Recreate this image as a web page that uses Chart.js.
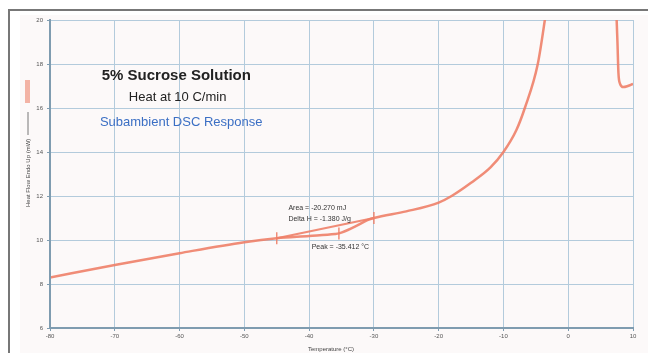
<!DOCTYPE html>
<html>
<head>
<meta charset="utf-8">
<script src="https://cdn.jsdelivr.net/npm/chart.js@4"></script>
<style>
  html, body { margin: 0; padding: 0; background: #fff; }
  #wrap { position: relative; width: 648px; height: 353px; }
</style>
</head>
<body>
<div id="wrap"><canvas id="dsc" width="648" height="353"></canvas></div>
<script>
// heating curve (null breaks the line where it leaves the scale)
var temps = [-80, -70, -60, -50, -45, -40, -36, -35.4, -33, -31, -30, -25, -20, -18, -15, -12, -10, -8, -6.7, -4.7, -3.3, null, 7.4, 7.6, 7.75, 8.0, 8.5, 9.2, 10];
var flow  = [8.3, 8.86, 9.4, 9.9, 10.08, 10.18, 10.27, 10.3, 10.6, 10.9, 11.0, 11.3, 11.7, 12.0, 12.6, 13.3, 14.0, 15.0, 16.0, 18.0, 20.6, null, 20.6, 19.0, 17.6, 17.1, 16.95, 17.0, 17.1];
// integration baseline
var baseTemps = [-45, -30];
var baseFlow = [10.08, 11.0];
// analysis markers
var markTemps = [-45, -35.4, -30];
var markFlow = [10.08, 10.3, 11.0];
var xTicks = [-80, -70, -60, -50, -40, -30, -20, -10, 0, 10];
var yTicks = [6, 8, 10, 12, 14, 16, 18, 20];

function pts(xs, ys) {
  return xs.map(function (x, i) { return x === null ? { x: null, y: null } : { x: x, y: ys[i] }; });
}

var lineColor = 'rgba(238, 128, 104, 0.9)';
var gridColor = '#b3cbdc';
var axisColor = '#7f9cb0';
var smallFont = '6px "Liberation Sans", Arial, sans-serif';

var decor = {
  id: 'decor',
  beforeDraw: function (chart) {
    var c = chart.ctx;
    c.save();
    c.fillStyle = '#ffffff';
    c.fillRect(0, 0, chart.width, chart.height);
    c.fillStyle = '#fcf9f9';
    c.fillRect(20, 15, chart.width - 20, chart.height - 15);
    c.strokeStyle = '#777';
    c.lineWidth = 2;
    c.beginPath();
    c.moveTo(9, chart.height);
    c.lineTo(9, 10);
    c.lineTo(chart.width, 10);
    c.stroke();
    c.restore();
  },
  afterDraw: function (chart) {
    var c = chart.ctx, xs = chart.scales.x, ys = chart.scales.y, a = chart.chartArea;
    c.save();
    c.textBaseline = 'middle';
    c.textAlign = 'center';
    c.fillStyle = '#222';
    c.font = 'bold 15px "Liberation Sans", Arial, sans-serif';
    c.fillText('5% Sucrose Solution', xs.getPixelForValue(-60.5), ys.getPixelForValue(17.45));
    c.font = '13px "Liberation Sans", Arial, sans-serif';
    c.fillText('Heat at 10 C/min', xs.getPixelForValue(-60.3), ys.getPixelForValue(16.5));
    c.textAlign = 'left';
    c.fillStyle = '#3b6fc4';
    c.fillText('Subambient DSC Response', xs.getPixelForValue(-72.3), ys.getPixelForValue(15.36));
    c.fillStyle = '#333';
    c.font = '7px "Liberation Sans", Arial, sans-serif';
    c.fillText('Area = -20.270 mJ', xs.getPixelForValue(-43.2), ys.getPixelForValue(11.45));
    c.fillText('Delta H = -1.380 J/g', xs.getPixelForValue(-43.2), ys.getPixelForValue(10.95));
    c.fillText('Peak = -35.412 \u00B0C', xs.getPixelForValue(-39.6), ys.getPixelForValue(9.7));
    // axis titles
    c.fillStyle = '#444';
    c.font = smallFont;
    c.textAlign = 'center';
    c.fillText('Temperature (\u00B0C)', 331, 349);
    c.translate(28, 207);
    c.rotate(-Math.PI / 2);
    c.textAlign = 'left';
    c.fillText('Heat Flow Endo Up (mW)', 0, 0);
    c.strokeStyle = '#555';
    c.lineWidth = 0.8;
    c.beginPath();
    c.moveTo(72, 0);
    c.lineTo(95, 0);
    c.stroke();
    c.setTransform(1, 0, 0, 1, 0, 0);
    // legend swatch beside the y title
    c.fillStyle = 'rgba(240, 150, 130, 0.7)';
    c.fillRect(25, 80, 5, 23);
    // heavy axis lines
    c.strokeStyle = axisColor;
    c.lineWidth = 2;
    c.beginPath();
    c.moveTo(a.left, a.top);
    c.lineTo(a.left, a.bottom);
    c.lineTo(a.right, a.bottom);
    c.stroke();
    c.restore();
  }
};

new Chart(document.getElementById('dsc').getContext('2d'), {
  type: 'scatter',
  data: {
    datasets: [
      {
        label: 'Heat Flow',
        data: pts(temps, flow),
        showLine: true,
        spanGaps: false,
        borderColor: lineColor,
        borderWidth: 2.5,
        pointRadius: 0,
        cubicInterpolationMode: 'monotone'
      },
      {
        label: 'Baseline',
        data: pts(baseTemps, baseFlow),
        showLine: true,
        borderColor: lineColor,
        borderWidth: 2,
        pointRadius: 0
      },
      {
        label: 'Markers',
        data: pts(markTemps, markFlow),
        showLine: false,
        pointStyle: 'line',
        rotation: 90,
        radius: 6,
        borderColor: lineColor,
        borderWidth: 1.5
      }
    ]
  },
  options: {
    responsive: false,
    animation: false,
    layout: { padding: { top: 20, right: 15, left: 0, bottom: 0 } },
    plugins: { legend: { display: false }, tooltip: { enabled: false } },
    scales: {
      x: {
        type: 'linear',
        min: -80,
        max: 10,
        afterBuildTicks: function (s) { s.ticks = xTicks.map(function (v) { return { value: v }; }); },
        afterFit: function (s) { s.height = 25; },
        grid: { color: gridColor, lineWidth: 1, tickLength: 3, tickColor: axisColor },
        border: { color: axisColor, width: 2 },
        ticks: { color: '#555', font: { size: 6, family: 'Liberation Sans' }, padding: 2, maxRotation: 0 }
      },
      y: {
        min: 6,
        max: 20,
        afterBuildTicks: function (s) { s.ticks = yTicks.map(function (v) { return { value: v }; }); },
        afterFit: function (s) { s.width = 50; },
        grid: { color: gridColor, lineWidth: 1, tickLength: 3, tickColor: axisColor },
        border: { color: axisColor, width: 2 },
        ticks: { color: '#555', font: { size: 6, family: 'Liberation Sans' }, padding: 4 }
      }
    }
  },
  plugins: [decor]
});
</script>
</body>
</html>
